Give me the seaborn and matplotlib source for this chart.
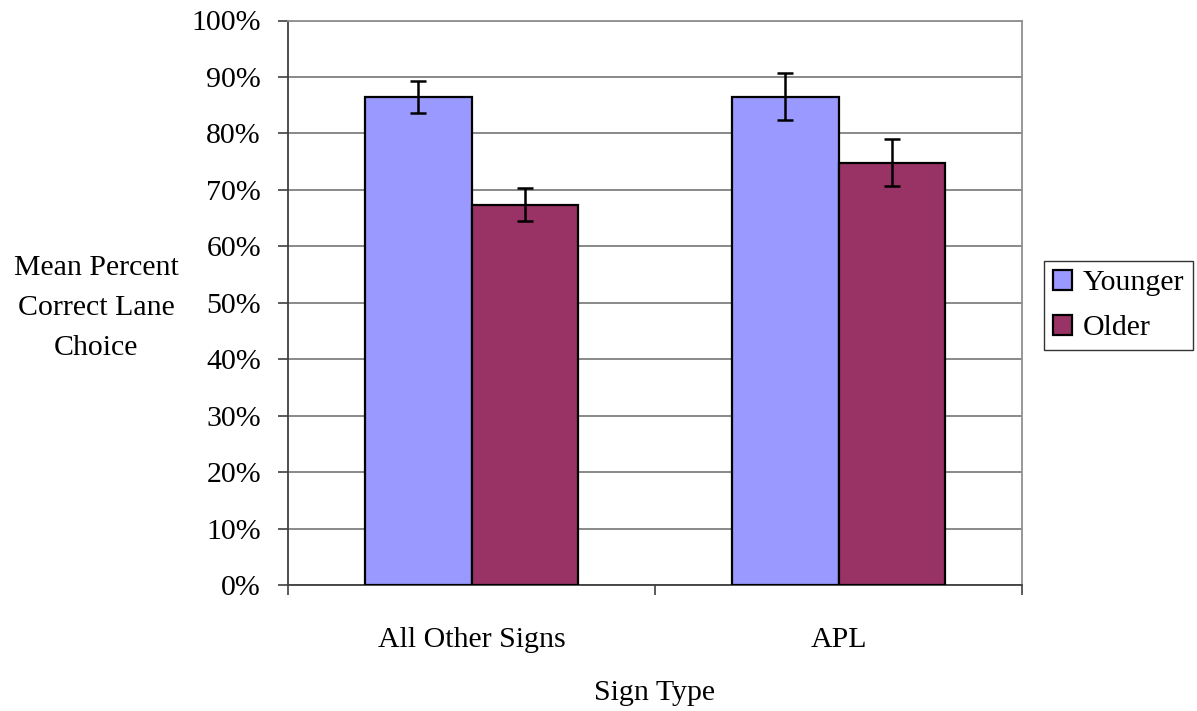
import matplotlib
matplotlib.use("Agg")
import matplotlib.pyplot as plt
import seaborn as sns
import pandas as pd
import numpy as np
from matplotlib.ticker import PercentFormatter

categories = ["All Other Signs", "APL"]
groups = ["Younger", "Older"]
younger_vals = [86.5, 86.5]
older_vals = [67.4, 74.8]
younger_err = [2.8, 4.2]
older_err = [2.85, 4.2]
yticks = list(range(0, 101, 10))
colors = ["#9999FF", "#993366"]

sns.set_theme(style="white")
plt.rcParams["font.family"] = ["Liberation Serif", "DejaVu Serif"]
plt.rcParams["text.color"] = "black"
plt.rcParams["axes.labelcolor"] = "black"
plt.rcParams["xtick.color"] = "black"
plt.rcParams["ytick.color"] = "black"

FS = 21.5

df = pd.DataFrame({
    "Sign Type": categories * 2,
    "Group": [groups[0]] * 2 + [groups[1]] * 2,
    "Value": younger_vals + older_vals,
    "Err": younger_err + older_err,
})

fig = plt.figure(figsize=(11.97, 7.11), dpi=100)
ax = fig.add_axes([288 / 1197, 1 - 585 / 711, (1022 - 288) / 1197, (585 - 20.5) / 711])

sns.barplot(data=df, x="Sign Type", y="Value", hue="Group", order=categories,
            hue_order=groups, palette=colors, width=0.58, edgecolor="black",
            linewidth=1.6, errorbar=None, ax=ax, saturation=1, zorder=3)

# error bars from patches
errs = [younger_err, older_err]
vals = [younger_vals, older_vals]
bar_containers = list(ax.containers)
for gi, cont in enumerate(bar_containers):
    for ci, patch in enumerate(cont.patches):
        xc = patch.get_x() + patch.get_width() / 2
        ax.errorbar(xc, vals[gi][ci], yerr=errs[gi][ci], fmt="none", ecolor="black",
                    elinewidth=1.8, capsize=5.5, capthick=1.8, zorder=4)

ax.set_ylim(0, 100)
ax.set_xlim(-0.5, 1.5)
ax.set_yticks(yticks)
ax.yaxis.set_major_formatter(PercentFormatter(100, decimals=0))
ax.yaxis.grid(True, color="#808080", linewidth=1.3, zorder=0)
ax.set_axisbelow(True)
ax.set_xticks([-0.5, 0.5, 1.5], minor=False)
ax.set_xticklabels([])
ax.set_xticks([0, 1], minor=True)
ax.set_xticklabels(categories, minor=True)
ax.tick_params(axis="x", which="major", length=7.5, width=1.2, color="#404040", direction="out", bottom=True)
ax.tick_params(axis="x", which="minor", length=0, pad=30, labelsize=FS)
ax.tick_params(axis="y", length=7.5, width=1.2, color="#404040", direction="out", left=True,
               labelsize=FS, pad=12)

for s in ["left", "bottom"]:
    ax.spines[s].set_color("#404040")
    ax.spines[s].set_linewidth(1.3)
for s in ["top", "right"]:
    ax.spines[s].set_color("#909090")
    ax.spines[s].set_linewidth(1.3)

ax.set_xlabel("Sign Type", fontsize=FS, labelpad=20)
ax.set_ylabel("Mean Percent\nCorrect Lane\nChoice", fontsize=FS, rotation=0,
              ha="center", va="center", linespacing=1.7)
ax.yaxis.set_label_coords(-0.261, 0.49)

leg = ax.legend(loc="center left", bbox_to_anchor=(1.03, 0.495), fontsize=FS,
                frameon=True, fancybox=False, edgecolor="black", handlelength=0.65,
                handleheight=0.65, handletextpad=0.35, borderpad=0.3, labelspacing=0.62,
                borderaxespad=0)
leg.get_frame().set_linewidth(1.0)
leg.set_title(None)

fig.savefig("out.png", dpi=100)
